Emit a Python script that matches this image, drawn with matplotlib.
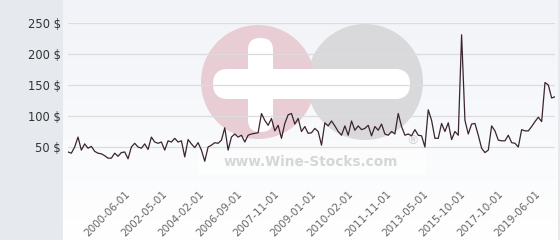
import numpy as np
import matplotlib
matplotlib.use("Agg")
import matplotlib.pyplot as plt
from matplotlib.patches import Circle, FancyBboxPatch

# price history (USD)
prices_a = [42, 40, 50, 66, 45, 55, 48, 51, 43, 40, 39, 36, 32, 32, 40, 35, 41, 42,
            31, 50, 56, 50, 48, 55, 46, 66, 58, 56, 58, 45, 60, 58, 64, 58, 60, 34]
prices_b = [62, 55, 49, 57, 45, 27, 50, 53, 57, 56, 61, 81, 45, 66, 71, 66, 69, 58,
            69, 71, 72, 73, 104, 93, 85, 96, 76, 85, 64, 88, 102, 104, 87, 96, 75, 83,
            72, 73, 80, 75, 53, 89, 84, 92, 84, 75, 69, 84, 69, 92, 77]
prices_c = [84, 78, 80, 85, 68, 83, 77, 87, 71, 69, 75, 71, 104,
            83, 69, 71, 68, 78, 69, 68, 50, 110, 93, 64, 64, 88, 75, 89, 62, 75, 69,
            231, 93, 71, 87, 88, 69, 48, 41, 45,
            84, 76, 61, 60, 60, 69, 57, 56, 50, 78, 76, 76, 83, 91, 98, 91, 154, 150,
            129, 131]
prices = prices_a + prices_b + prices_c

tick_labels = ["2000-06-01", "2002-05-01", "2004-02-01", "2006-09-01", "2007-11-01",
               "2009-01-01", "2010-02-01", "2011-11-01", "2013-05-01", "2015-10-01",
               "2017-10-01", "2019-06-01"]
y_ticks = [50, 100, 150, 200, 250]

W, H = 560, 240
fig = plt.figure(figsize=(W / 100, H / 100), dpi=100, facecolor="#e6eaee")

# plot area background gradient
bg = fig.add_axes([63 / W, 0, 495 / W, 1])
grad = np.linspace(0, 1, 256).reshape(-1, 1)
top = np.array([0.945, 0.953, 0.972])
bot = np.array([1.0, 1.0, 1.0])
img = top + (bot - top) * grad[..., None]
bg.imshow(img, aspect="auto", extent=[0, 1, 0, 1], origin="upper")
bg.axis("off")

# watermark logo, drawn in pixel coordinates
wm = fig.add_axes([0, 0, 1, 1])
wm.set_xlim(0, W)
wm.set_ylim(H, 0)
wm.axis("off")
wm.patch.set_alpha(0)
wm.add_patch(Circle((365, 82), 58, color="#d9d9db", lw=0))
wm.add_patch(Circle((258, 82), 57, color="#e9cdd4", lw=0))
wm.add_patch(FancyBboxPatch((213, 69), 197, 30, boxstyle="round,pad=0,rounding_size=15",
                            fc="white", ec="none"))
wm.add_patch(FancyBboxPatch((248, 38), 25, 94, boxstyle="round,pad=0,rounding_size=12",
                            fc="white", ec="none"))
wm.add_patch(FancyBboxPatch((198, 150), 228, 24, boxstyle="round,pad=0,rounding_size=2",
                            fc="white", ec="none", alpha=0.5))
wm.text(311, 162, "www.Wine-Stocks.com", ha="center", va="center", fontsize=9.8,
        fontweight="bold", color="#d6d6d8")
wm.text(413, 141, "\u00ae", ha="center", va="center", fontsize=9, color="#d0d0d2")

# main chart
ax = fig.add_axes([68 / W, (H - 178) / H, (555 - 68) / W, (178 - 23) / H])
ax.patch.set_alpha(0)
x = np.arange(len(prices))
ax.plot(x, prices, color="#3a2430", lw=0.9)
ax.set_xlim(0, len(prices) - 1)
ax.set_ylim(0, 250)
ax.set_yticks([0] + y_ticks)
ax.set_yticklabels([""] + [f"{v} $" for v in y_ticks])
ax.grid(axis="y", color="#dcdcdf", lw=0.9)
ax.set_axisbelow(True)
for s in ax.spines.values():
    s.set_visible(False)
ax.tick_params(axis="y", length=0, pad=5, labelsize=8.3, labelcolor="#333333")

tick_pos = np.linspace(17, 140, len(tick_labels))
ax.set_xticks(tick_pos)
ax.set_xticklabels(tick_labels, rotation=45, ha="right", va="top",
                   rotation_mode="anchor", fontsize=7.5, color="#666666")
ax.tick_params(axis="x", length=0, pad=8)

fig.savefig("out.png", dpi=100, facecolor=fig.get_facecolor())
